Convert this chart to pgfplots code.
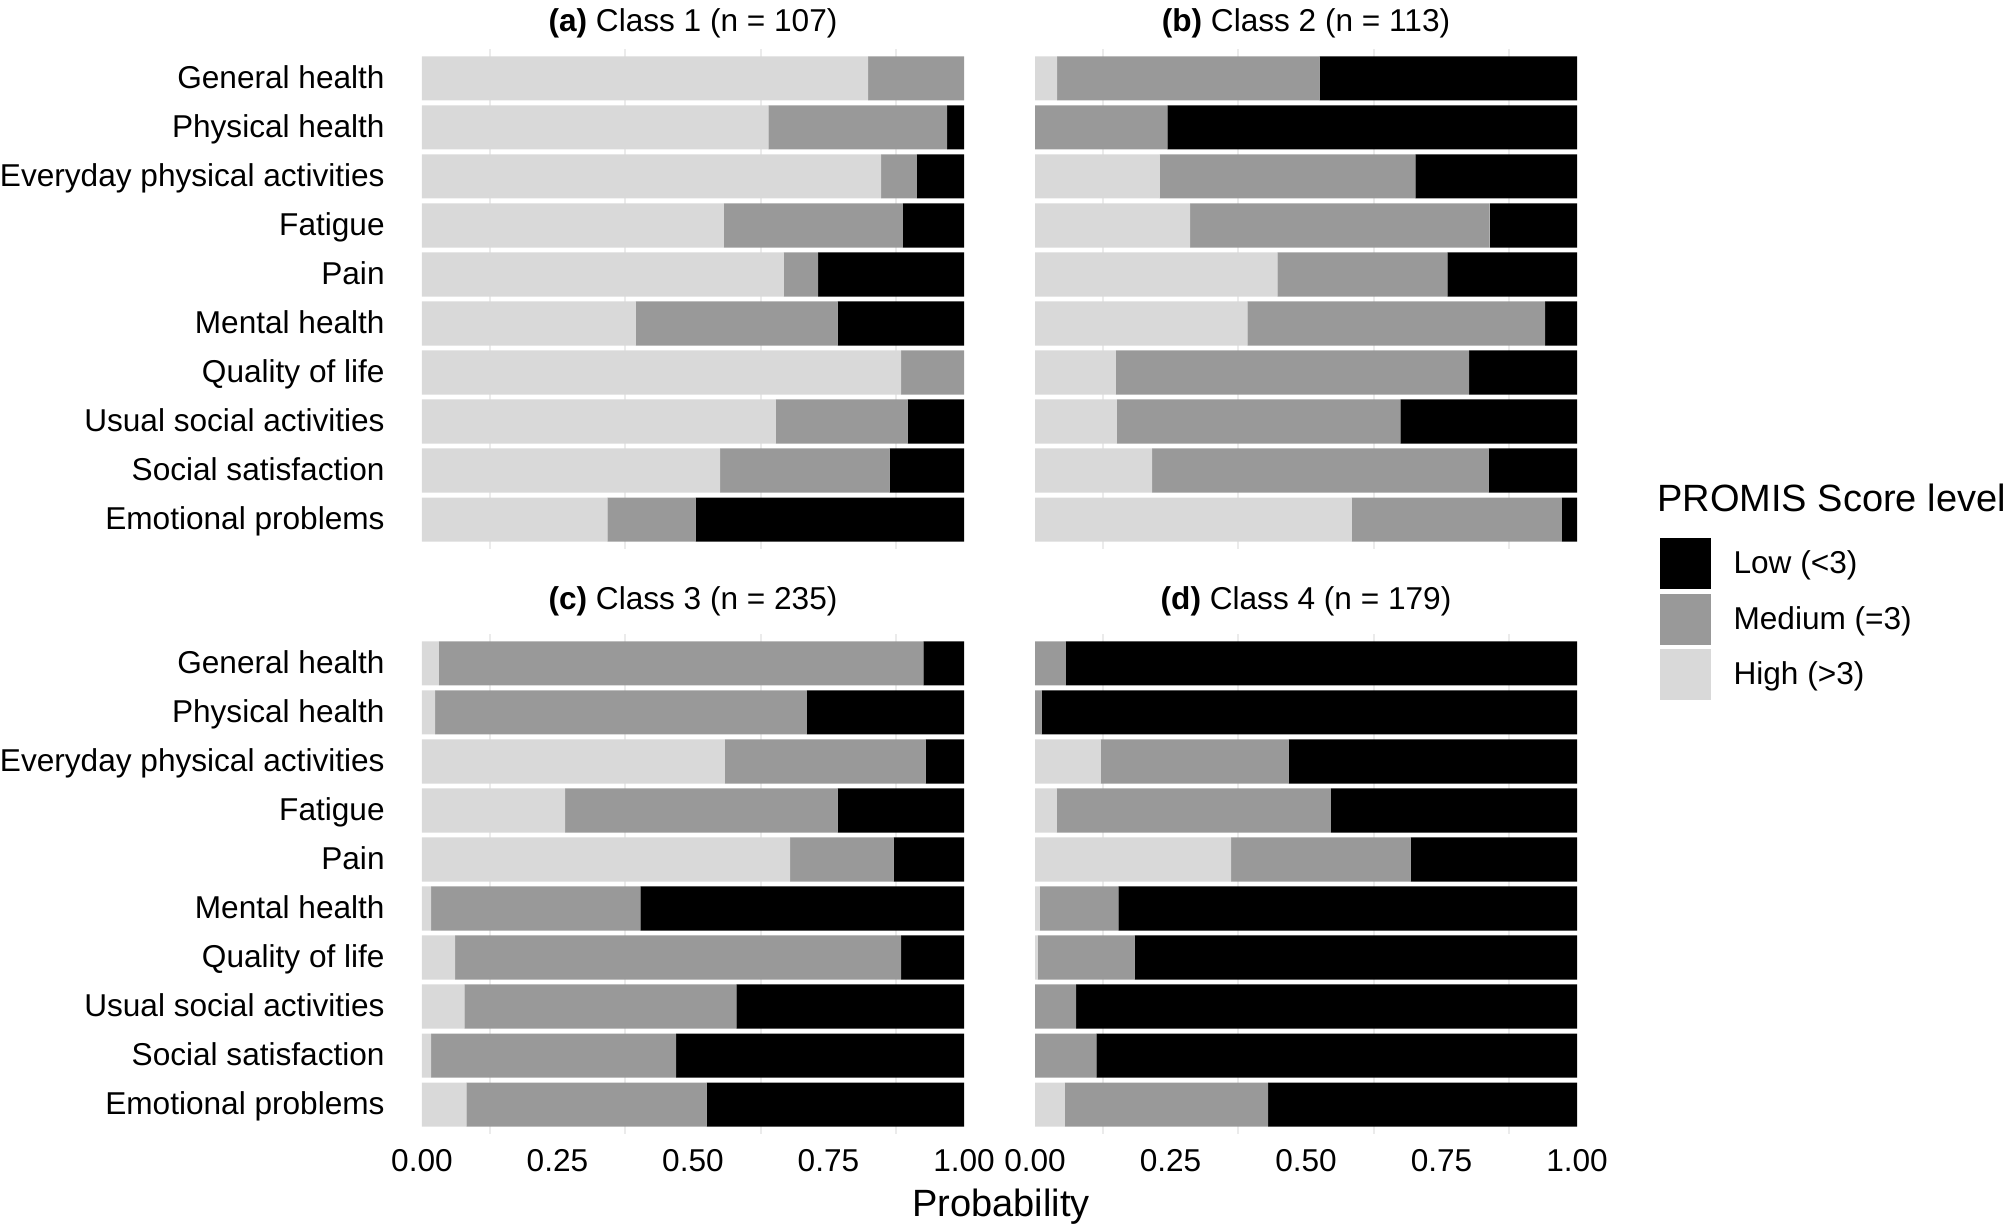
\documentclass[border=0pt]{standalone}
\usepackage{fontspec}
\setmainfont{Liberation Sans}
\usepackage{pgfplots}
\usepackage{pgfplotstable}
\pgfplotsset{compat=1.18}

\definecolor{lowc}{HTML}{000000}
\definecolor{medc}{HTML}{999999}
\definecolor{highc}{HTML}{D9D9D9}
\definecolor{gridc}{HTML}{EBEBEB}

\newcommand{\lbl}{\fontsize{15.8}{18}\selectfont}
\newcommand{\bigfont}{\fontsize{19}{22}\selectfont}

% y = 10 is the top row (General health)
\pgfplotstableread{
y  high  med   low
10 0.823 0.177 0.000
9  0.639 0.330 0.031
8  0.847 0.066 0.087
7  0.557 0.330 0.113
6  0.667 0.064 0.269
5  0.394 0.373 0.233
4  0.884 0.116 0.000
3  0.653 0.243 0.104
2  0.550 0.313 0.137
1  0.342 0.163 0.495
}\classA
\pgfplotstableread{
y  high  med   low
10 0.041 0.484 0.475
9  0.000 0.244 0.756
8  0.230 0.472 0.298
7  0.286 0.553 0.161
6  0.447 0.314 0.239
5  0.392 0.549 0.059
4  0.149 0.652 0.199
3  0.151 0.523 0.326
2  0.216 0.621 0.163
1  0.584 0.388 0.028
}\classB
\pgfplotstableread{
y  high  med   low
10 0.031 0.894 0.075
9  0.024 0.686 0.290
8  0.559 0.370 0.071
7  0.264 0.503 0.233
6  0.679 0.191 0.130
5  0.017 0.386 0.597
4  0.061 0.823 0.116
3  0.078 0.502 0.420
2  0.017 0.452 0.531
1  0.082 0.443 0.475
}\classC
\pgfplotstableread{
y  high  med   low
10 0.000 0.057 0.943
9  0.000 0.012 0.988
8  0.121 0.347 0.532
7  0.040 0.506 0.454
6  0.362 0.331 0.307
5  0.009 0.145 0.846
4  0.005 0.179 0.816
3  0.000 0.076 0.924
2  0.000 0.113 0.887
1  0.055 0.375 0.570
}\classD

\pgfplotsset{
  panel/.style={
    xbar stacked, bar width=0.9,
    scale only axis, width=271pt, height=250pt,
    xmin=0, xmax=1, ymin=0.4, ymax=10.6,
    axis line style={draw=none},
    major tick length=0pt, minor tick length=0pt,
    xtick={0,0.25,0.5,0.75,1},
    minor xtick={0.125,0.375,0.625,0.875},
    xminorgrids, minor grid style={gridc, line width=0.8pt},
    ytick={1,...,10},
    ticklabel style={font=\lbl, inner sep=0pt},
    xticklabel style={anchor=north, yshift=-7.5pt},
    yticklabel style={anchor=base east, xshift=-18.5pt, yshift=-5.1pt},
    title style={font=\lbl, at={(0.5,1)}, anchor=base, yshift=2.5pt, inner sep=0pt},
    every axis plot/.append style={draw=none},
  },
  cats/.style={yticklabels={Emotional problems, Social satisfaction, Usual social activities, Quality of life, Mental health, Pain, Fatigue, Everyday physical activities, Physical health, General health}},
  nocats/.style={yticklabels={}},
  probs/.style={xticklabels={0.00,0.25,0.50,0.75,1.00}},
  noprobs/.style={xticklabels={}},
}

\begin{document}
\begin{tikzpicture}
\path[use as bounding box] (0,0) rectangle (1002pt,613pt);

\begin{axis}[panel, cats, noprobs, at={(211pt,338.5pt)}, anchor=south west,
  title={\textbf{(a)} Class 1 (n = 107)}]
\addplot[fill=highc] table[x=high,y=y]{\classA};
\addplot[fill=medc] table[x=med,y=y]{\classA};
\addplot[fill=lowc] table[x=low,y=y]{\classA};
\end{axis}

\begin{axis}[panel, nocats, noprobs, at={(517.5pt,338.5pt)}, anchor=south west,
  title={\textbf{(b)} Class 2 (n = 113)}]
\addplot[fill=highc] table[x=high,y=y]{\classB};
\addplot[fill=medc] table[x=med,y=y]{\classB};
\addplot[fill=lowc] table[x=low,y=y]{\classB};
\end{axis}

\begin{axis}[panel, cats, probs, at={(211pt,46pt)}, anchor=south west,
  title style={yshift=3.5pt},
  title={\textbf{(c)} Class 3 (n = 235)}]
\addplot[fill=highc] table[x=high,y=y]{\classC};
\addplot[fill=medc] table[x=med,y=y]{\classC};
\addplot[fill=lowc] table[x=low,y=y]{\classC};
\end{axis}

\begin{axis}[panel, nocats, probs, at={(517.5pt,46pt)}, anchor=south west,
  title style={yshift=3.5pt},
  title={\textbf{(d)} Class 4 (n = 179)},
  reverse legend, legend cell align=left,
  legend image code/.code={\fill[#1] (0pt,-12.75pt) rectangle (25.5pt,12.75pt);},
  legend style={at={(1.1516,1.192)}, anchor=north west, draw=none, fill=none,
    inner sep=0pt, row sep=2.25pt, column sep=11.5pt,
    nodes={inner sep=0pt, font=\lbl}}]
\addplot[fill=highc] table[x=high,y=y]{\classD};
\addlegendentry{High (>3)}
\addplot[fill=medc] table[x=med,y=y]{\classD};
\addlegendentry{Medium (=3)}
\addplot[fill=lowc] table[x=low,y=y]{\classD};
\addlegendentry{Low (<3)}
\end{axis}

\node[anchor=base west, inner sep=0pt, font=\bigfont] at (828.5pt,357pt) {PROMIS Score level};
\node[anchor=base, inner sep=0pt, font=\bigfont] at (500.5pt,4.5pt) {Probability};
\end{tikzpicture}
\end{document}
